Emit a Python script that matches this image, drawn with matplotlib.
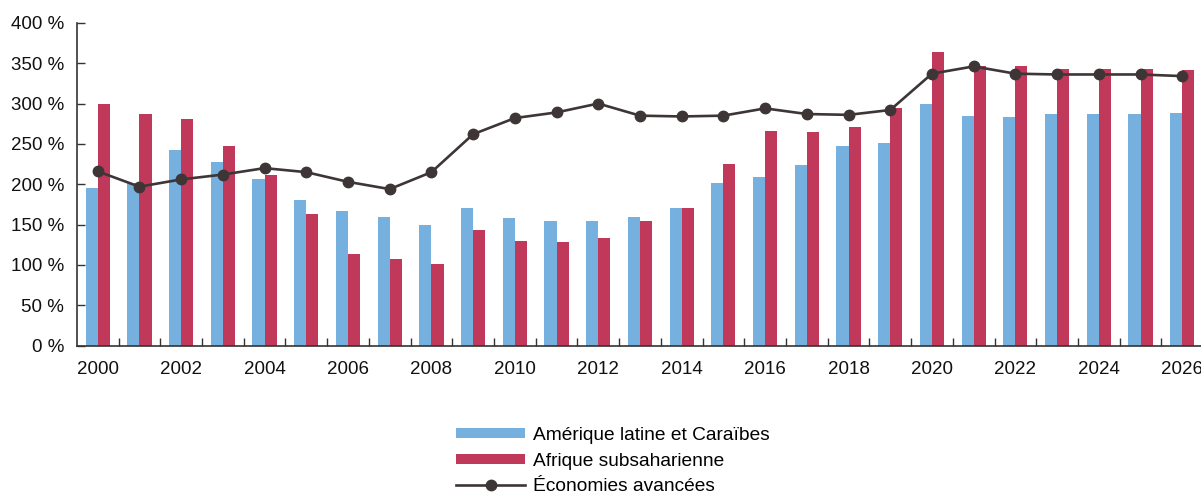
import matplotlib.pyplot as plt
import numpy as np

plt.rcParams['font.family'] = ['Liberation Sans', 'DejaVu Sans']

years = list(range(2000, 2027))
amerique_latine = [195, 201, 243, 227, 207, 181, 167, 160, 149, 171, 158, 155, 155, 159, 171,
                   201, 209, 224, 248, 251, 300, 285, 283, 287, 287, 287, 288]
afrique_ss = [300, 287, 281, 247, 211, 163, 113, 108, 101, 143, 130, 128, 133, 154, 171,
              225, 266, 265, 271, 295, 364, 347, 347, 343, 343, 343, 341]
economies_avancees = [216, 197, 206, 212, 220, 215, 203, 194, 215, 262, 282, 289, 300, 285, 284,
                      285, 294, 287, 286, 292, 337, 346, 337, 336, 336, 336, 334]
yticks = [0, 50, 100, 150, 200, 250, 300, 350, 400]

blue = '#76B0DF'
red = '#C0385A'
dark = '#3E3636'

fig = plt.figure(figsize=(12.01, 4.96), dpi=100)
ax = fig.add_axes([0.064, 0.303, 0.936, 0.651])

x = np.arange(len(years))
w = 0.29
b1 = ax.bar(x - w / 2, amerique_latine, width=w, color=blue, label='Amérique latine et Caraïbes')
b2 = ax.bar(x + w / 2, afrique_ss, width=w, color=red, label='Afrique subsaharienne')
l1, = ax.plot(x, economies_avancees, color=dark, lw=1.9, marker='o', markersize=7.5,
              label='Économies avancées')

ax.set_xlim(-0.5, 26.45)
ax.set_ylim(0, 400)
ax.set_yticks(yticks)
ax.set_yticklabels([f'{v} %' for v in yticks])

# ticks at category boundaries, labels every 2 years
ax.set_xticks(x[:-1] + 0.5)
ax.set_xticklabels([])
ax.set_xticks(x[::2], minor=True)
ax.set_xticklabels([str(y) for y in years[::2]], minor=True)
ax.tick_params(axis='x', which='major', direction='in', length=6, width=1, color='#333333')
ax.tick_params(axis='x', which='minor', length=0, pad=11, labelsize=13.5, labelcolor='#111111')
ax.tick_params(axis='y', direction='in', length=6, width=1, color='#333333', pad=9,
               labelsize=13.5, labelcolor='#111111')

for s in ['top', 'right']:
    ax.spines[s].set_visible(False)
for s in ['left', 'bottom']:
    ax.spines[s].set_color('#333333')
    ax.spines[s].set_linewidth(1.2)

fig.legend(handles=[b1, b2, l1], loc='center', bbox_to_anchor=(613 / 1201, 1 - 461 / 496),
           frameon=False, fontsize=13.8, handlelength=3.6, handleheight=0.42,
           handletextpad=0.42, labelspacing=0.46, borderpad=0)

plt.savefig('out.png', dpi=100)
